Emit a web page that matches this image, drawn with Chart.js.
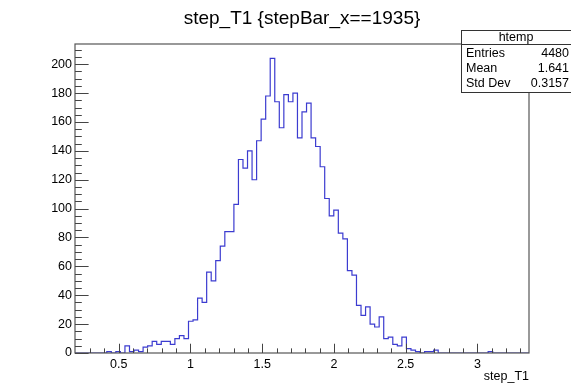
<!DOCTYPE html>
<html>
<head>
<meta charset="utf-8">
<script src="https://cdn.jsdelivr.net/npm/chart.js@4.4.0/dist/chart.umd.min.js"></script>
<style>
html,body{margin:0;padding:0;background:#fff;}
#wrap{width:571px;height:384px;position:relative;}
canvas{display:block;}
</style>
</head>
<body>
<div id="wrap"><canvas id="c" width="571" height="384"></canvas></div>
<script>
// ---- data ----
const chartTitle = "step_T1 {stepBar_x==1935}";
const xAxisTitle = "step_T1";
const histName = "htemp";
const xMin = 0.195;
const xMax = 3.36;
const binCounts = [
  0, 0, 0, 0, 0, 0, 0, 1, 0, 1,
  0, 5, 1, 2, 1, 4, 5, 8, 6, 8,
  8, 6, 10, 12, 10, 22, 23, 38, 35, 56,
  50, 64, 74, 84, 84, 103, 134, 128, 140, 120,
  147, 162, 178, 204, 174, 156, 179, 174, 180, 149,
  167, 173, 149, 143, 129, 107, 95, 99, 83, 79,
  57, 54, 33, 26, 32, 20, 18, 25, 10, 11,
  6, 5, 11, 3, 2, 1, 0, 1, 1, 2,
  0, 0, 0, 0, 0, 0, 0, 0, 0, 0,
  0, 1, 0, 0, 0, 0, 0, 0, 0, 0
];
const xTickLabels = [0.5, 1, 1.5, 2, 2.5, 3];
const yTickValues = [0, 20, 40, 60, 80, 100, 120, 140, 160, 180, 200];
const yMax = 214;
const statsLabels = ["Entries", "Mean", "Std Dev"];
const statsValues = ["4480", "1.641", "0.3157"];

// ---- tick settings ----
const yMajorStep = 20, yMinorStep = 5;
const xMajorStep = 0.5, xMinorStep = 0.1, xMinorFrom = 0.3, xMinorTo = 3.3;

const FONT = "'Liberation Sans', Arial, Helvetica, sans-serif";

// build step points from bin edges
const nBins = binCounts.length;
const binW = (xMax - xMin) / nBins;
const points = binCounts.map((c, i) => ({ x: xMin + i * binW, y: c }));
points.push({ x: xMax, y: binCounts[nBins - 1] });

const decor = {
  id: 'rootDecor',
  afterDraw(chart) {
    const ctx = chart.ctx, a = chart.chartArea;
    const xs = chart.scales.x, ys = chart.scales.y;
    const W = a.right - a.left, H = a.bottom - a.top;
    ctx.save();
    // frame
    ctx.strokeStyle = '#555';
    ctx.lineWidth = 1.2;
    ctx.strokeRect(a.left, a.top, W, H);

    // ticks
    ctx.beginPath();
    ctx.lineWidth = 1;
    ctx.strokeStyle = '#444';
    const yLen = 0.03 * W, xLen = 0.03 * H;
    for (let i = 0; i * yMinorStep <= yMax + 1e-9; i++) {
      const v = i * yMinorStep;
      const p = Math.round(ys.getPixelForValue(v)) + 0.5;
      const major = (v % yMajorStep) === 0;
      ctx.moveTo(a.left, p);
      ctx.lineTo(a.left + (major ? yLen : yLen / 2), p);
    }
    const nX = Math.round((xMinorTo - xMinorFrom) / xMinorStep);
    for (let i = 0; i <= nX; i++) {
      const v = xMinorFrom + i * xMinorStep;
      const p = Math.round(xs.getPixelForValue(v)) + 0.5;
      const r = v / xMajorStep;
      const major = Math.abs(r - Math.round(r)) < 1e-6;
      ctx.moveTo(p, a.bottom);
      ctx.lineTo(p, a.bottom - (major ? xLen : xLen / 2));
    }
    ctx.stroke();

    // title
    ctx.fillStyle = '#000';
    ctx.font = '19px ' + FONT;
    ctx.textAlign = 'center';
    ctx.textBaseline = 'middle';
    ctx.fillText(chartTitle, (a.left + a.right) / 2, 19);

    // x axis title
    ctx.font = '12.5px ' + FONT;
    ctx.textAlign = 'right';
    ctx.fillText(xAxisTitle, a.right, 377);

    // stats box
    const bx = 461.5, by = 30.5, bw = 120, bh = 62;
    ctx.fillStyle = '#fff';
    ctx.fillRect(bx, by, bw, bh);
    ctx.strokeStyle = '#333';
    ctx.strokeRect(bx, by, bw, bh);
    ctx.beginPath();
    ctx.moveTo(bx, 44.5); ctx.lineTo(bx + bw, 44.5);
    ctx.stroke();
    ctx.fillStyle = '#000';
    ctx.font = '12.5px ' + FONT;
    ctx.textAlign = 'center';
    ctx.fillText(histName, 516, 37.5);
    statsLabels.forEach((lab, i) => {
      const y = 54 + i * 15;
      ctx.textAlign = 'left';
      ctx.fillText(lab, 466, y);
      ctx.textAlign = 'right';
      ctx.fillText(statsValues[i], 569, y);
    });
    ctx.restore();
  }
};

new Chart(document.getElementById('c'), {
  type: 'line',
  data: {
    datasets: [{
      data: points,
      stepped: 'before',
      borderColor: '#3c3cd0',
      borderWidth: 1.2,
      pointRadius: 0,
      fill: false,
      tension: 0
    }]
  },
  options: {
    responsive: false,
    animation: false,
    devicePixelRatio: 1,
    layout: { padding: { left: 0, top: 44, right: 42, bottom: 0 } },
    plugins: { legend: { display: false }, tooltip: { enabled: false }, title: { display: false } },
    scales: {
      x: {
        type: 'linear',
        min: xMin,
        max: xMax,
        grid: { display: false, drawTicks: false },
        border: { display: false },
        ticks: {
          color: '#000',
          font: { family: FONT, size: 12.5 },
          padding: 4,
          maxRotation: 0,
          autoSkip: false,
          callback: v => String(v)
        },
        afterBuildTicks: s => { s.ticks = xTickLabels.map(v => ({ value: v })); },
        afterFit: s => { s.height = 31; }
      },
      y: {
        type: 'linear',
        min: 0,
        max: yMax,
        grid: { display: false, drawTicks: false },
        border: { display: false },
        ticks: {
          color: '#000',
          font: { family: FONT, size: 12.5 },
          padding: 3,
          autoSkip: false,
          callback: v => String(v)
        },
        afterBuildTicks: s => { s.ticks = yTickValues.map(v => ({ value: v })); },
        afterFit: s => { s.width = 75; }
      }
    }
  },
  plugins: [decor]
});
</script>
</body>
</html>
